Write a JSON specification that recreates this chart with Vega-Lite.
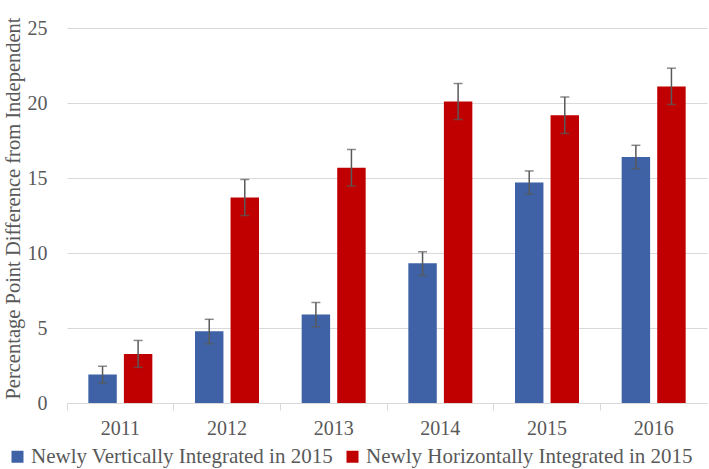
{
  "$schema": "https://vega.github.io/schema/vega-lite/v6.json",
  "width": 640,
  "height": 390,
  "autosize": {"type": "none"},
  "padding": {"left": 67, "top": 13, "right": 2, "bottom": 66},
  "background": "white",
  "config": {"view": {"stroke": null}, "font": "Liberation Serif"},
  "data": {
    "values": [
      {"year": "2011", "series": "Newly Vertically Integrated in 2015", "value": 1.9, "lo": 1.33, "hi": 2.45},
      {"year": "2011", "series": "Newly Horizontally Integrated in 2015", "value": 3.27, "lo": 2.38, "hi": 4.17},
      {"year": "2012", "series": "Newly Vertically Integrated in 2015", "value": 4.78, "lo": 3.95, "hi": 5.58},
      {"year": "2012", "series": "Newly Horizontally Integrated in 2015", "value": 13.7, "lo": 12.5, "hi": 14.9},
      {"year": "2013", "series": "Newly Vertically Integrated in 2015", "value": 5.9, "lo": 5.08, "hi": 6.7},
      {"year": "2013", "series": "Newly Horizontally Integrated in 2015", "value": 15.68, "lo": 14.47, "hi": 16.9},
      {"year": "2014", "series": "Newly Vertically Integrated in 2015", "value": 9.32, "lo": 8.5, "hi": 10.08},
      {"year": "2014", "series": "Newly Horizontally Integrated in 2015", "value": 20.1, "lo": 18.9, "hi": 21.3},
      {"year": "2015", "series": "Newly Vertically Integrated in 2015", "value": 14.7, "lo": 13.93, "hi": 15.47},
      {"year": "2015", "series": "Newly Horizontally Integrated in 2015", "value": 19.19, "lo": 17.97, "hi": 20.4},
      {"year": "2016", "series": "Newly Vertically Integrated in 2015", "value": 16.4, "lo": 15.62, "hi": 17.18},
      {"year": "2016", "series": "Newly Horizontally Integrated in 2015", "value": 21.1, "lo": 19.9, "hi": 22.32}
    ]
  },
  "encoding": {
    "x": {
      "field": "year",
      "type": "ordinal",
      "scale": {"paddingInner": 0.4, "paddingOuter": 0.2},
      "axis": {
        "title": null,
        "labelAngle": 0,
        "labelFont": "Liberation Serif",
        "labelFontSize": 20,
        "labelColor": "#595959",
        "labelPadding": 8,
        "domainColor": "#d9d9d9",
        "domainWidth": 1,
        "tickColor": "#d9d9d9",
        "tickSize": 7,
        "tickWidth": 1,
        "bandPosition": -0.3333,
        "grid": false
      }
    },
    "xOffset": {
      "field": "series",
      "type": "nominal",
      "sort": ["Newly Vertically Integrated in 2015", "Newly Horizontally Integrated in 2015"],
      "scale": {"paddingInner": 0.2}
    }
  },
  "layer": [
    {
      "mark": {"type": "bar"},
      "encoding": {
        "y": {
          "field": "value",
          "type": "quantitative",
          "scale": {"domain": [0, 25]},
          "axis": {
            "values": [0, 5, 10, 15, 20, 25],
            "grid": true,
            "gridColor": "#d9d9d9",
            "gridWidth": 1,
            "domain": false,
            "ticks": false,
            "labelFont": "Liberation Serif",
            "labelFontSize": 20,
            "labelColor": "#595959",
            "labelPadding": 20,
            "title": "Percentage Point Difference from Independent",
            "titleFont": "Liberation Serif",
            "titleFontSize": 20.5,
            "titleFontWeight": "normal",
            "titleColor": "#595959",
            "titlePadding": 4
          }
        },
        "color": {
          "field": "series",
          "type": "nominal",
          "sort": ["Newly Vertically Integrated in 2015", "Newly Horizontally Integrated in 2015"],
          "scale": {
            "domain": ["Newly Vertically Integrated in 2015", "Newly Horizontally Integrated in 2015"],
            "range": ["#3f62a6", "#c00000"]
          },
          "legend": {
            "title": null,
            "orient": "none",
            "direction": "horizontal",
            "legendX": -60,
            "legendY": 433,
            "symbolType": "square",
            "symbolSize": 144,
            "symbolStrokeWidth": 0,
            "labelFont": "Liberation Serif",
            "labelFontSize": 21,
            "labelColor": "#595959",
            "labelLimit": 400,
            "labelOffset": 3,
            "columnPadding": 8
          }
        }
      }
    },
    {
      "mark": {"type": "rule", "color": "#595959", "strokeWidth": 1.5},
      "encoding": {
        "y": {"field": "lo", "type": "quantitative"},
        "y2": {"field": "hi"}
      }
    },
    {
      "mark": {"type": "tick", "color": "#595959", "thickness": 1.5, "size": 9},
      "encoding": {"y": {"field": "lo", "type": "quantitative"}}
    },
    {
      "mark": {"type": "tick", "color": "#595959", "thickness": 1.5, "size": 9},
      "encoding": {"y": {"field": "hi", "type": "quantitative"}}
    }
  ]
}
